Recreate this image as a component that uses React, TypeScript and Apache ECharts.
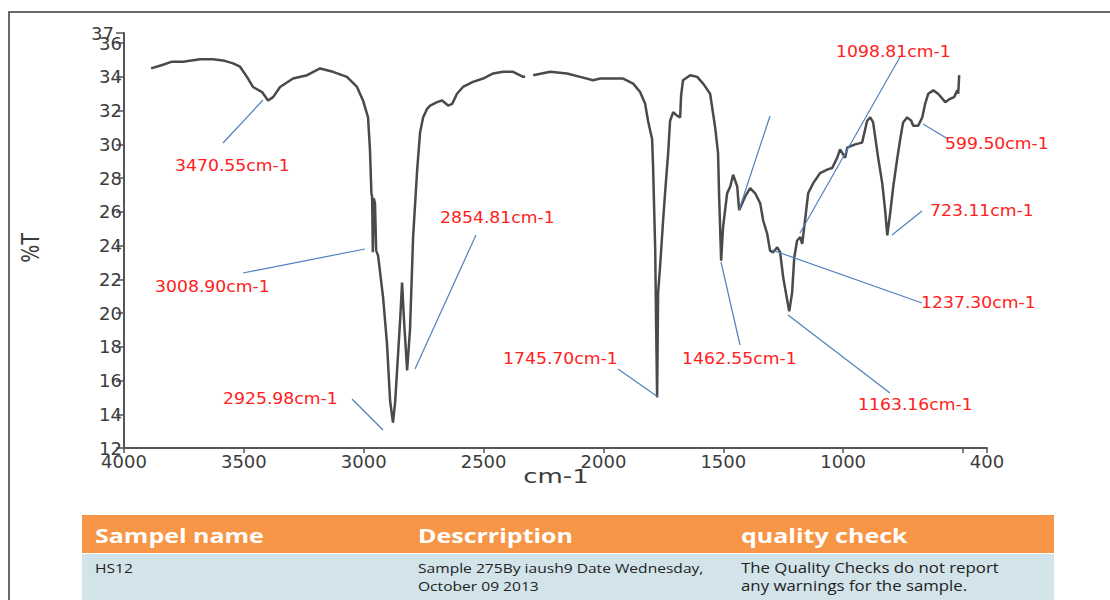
import React, { useEffect, useRef } from "react";
import * as echarts from "echarts";

// ---- Spectrum data (wavenumber cm-1, %T) ----
const wavenumbers = [
  3887, 3840, 3800, 3754, 3683, 3629, 3580, 3545, 3516, 3487, 3462, 3424, 3399, 3378, 3349, 3295,
  3236, 3182, 3128, 3070, 3028, 3003, 2982, 2974, 2968, 2965, 2962, 2958, 2953, 2948, 2940, 2919,
  2903, 2890, 2878, 2869, 2848, 2840, 2832, 2819, 2807, 2794, 2777, 2765, 2752, 2736, 2723, 2694,
  2673, 2648, 2631, 2611, 2586, 2544, 2502, 2460, 2419, 2377, 2335, 2327, 2310, 2293, 2222, 2152,
  2097, 2043, 2014, 1943, 1918, 1876, 1847, 1826, 1814, 1797, 1793, 1784, 1780, 1776, 1772, 1764,
  1751, 1743, 1730, 1722, 1709, 1693, 1680, 1676, 1668, 1638, 1609, 1584, 1555, 1534, 1522, 1517,
  1509, 1501, 1484, 1471, 1459, 1442, 1434, 1409, 1388, 1367, 1346, 1334, 1317, 1305, 1292, 1275,
  1263, 1250, 1234, 1225, 1213, 1204, 1192, 1179, 1171, 1159, 1146, 1125, 1096, 1067, 1046, 1025,
  1013, 1000, 992, 983, 950, 921, 900, 887, 875, 854, 837, 825, 816, 804, 791, 775,
  762, 750, 733, 716, 708, 687, 670, 658, 645, 624, 604, 574, 554, 537, 524, 520,
  516,
];
const transmittance: (number | null)[] = [
  34.5, 34.7, 34.9, 34.9, 35.05, 35.05, 34.95, 34.8, 34.6, 34.0, 33.4, 33.1, 32.6, 32.8, 33.4, 33.9,
  34.1, 34.5, 34.3, 34.0, 33.4, 32.6, 31.6, 29.7, 27.1, 26.9, 23.6, 26.8, 26.5, 23.7, 23.4, 20.9,
  18.2, 14.8, 13.5, 14.7, 19.6, 21.8, 19.6, 16.6, 19.0, 24.5, 28.5, 30.7, 31.6, 32.1, 32.3, 32.5,
  32.6, 32.3, 32.4, 33.0, 33.4, 33.7, 33.9, 34.2, 34.3, 34.3, 34.0, 34.0, null, 34.1, 34.3, 34.2,
  34.0, 33.8, 33.9, 33.9, 33.9, 33.6, 33.1, 32.4, 31.4, 30.3, 28.7, 23.7, 19.0, 15.0, 21.2, 22.7,
  25.5, 27.1, 29.5, 31.4, 31.9, 31.7, 31.6, 32.9, 33.8, 34.1, 34.0, 33.6, 33.0, 31.0, 29.5, 26.7,
  23.1, 25.1, 27.1, 27.5, 28.2, 27.5, 26.1, 26.9, 27.4, 27.1, 26.5, 25.5, 24.7, 23.7, 23.6, 23.9,
  23.6, 22.1, 20.8, 20.1, 21.2, 23.3, 24.3, 24.5, 24.1, 25.5, 27.1, 27.7, 28.3, 28.5, 28.6, 29.2,
  29.7, 29.4, 29.2, 29.8, 30.0, 30.1, 31.4, 31.6, 31.3, 29.2, 27.7, 26.1, 24.6, 25.9, 27.5, 29.1,
  30.3, 31.3, 31.6, 31.4, 31.1, 31.1, 31.6, 32.4, 33.0, 33.2, 33.0, 32.5, 32.7, 32.8, 33.2, 33.0,
  34.1,
];

// ---- Axis ticks ----
const xTickValues = [4000, 3500, 3000, 2500, 2000, 1500, 1000, 500, 400];
const xLabelValues = [4000, 3500, 3000, 2500, 2000, 1500, 1000, 400];
const yTickValues = [12, 14, 16, 18, 20, 22, 24, 26, 28, 30, 32, 34, 36, 36.6];
const yLabelValues = [12, 14, 16, 18, 20, 22, 24, 26, 28, 30, 32, 34, 36];
const yTopLabel = "37";

// ---- Peak annotations ----
const peakLabels = [
  "3470.55cm-1",
  "3008.90cm-1",
  "2925.98cm-1",
  "2854.81cm-1",
  "1745.70cm-1",
  "1462.55cm-1",
  "1098.81cm-1",
  "",
  "599.50cm-1",
  "723.11cm-1",
  "1237.30cm-1",
  "1163.16cm-1",
];

// ---- Table ----
const tableHeaders = ["Sampel name", "Descrription", "quality check"];
const tableRow = [
  ["HS12"],
  ["Sample 275By iaush9 Date Wednesday,", "October 09 2013"],
  ["The Quality Checks do not report", "any warnings for the sample."],
];

export default function App() {
  const ref = useRef<HTMLDivElement>(null);

  useEffect(() => {
    if (!ref.current) return;
    const chart = echarts.init(ref.current, undefined, { renderer: "svg" });

    const data = wavenumbers.map((w, i) => [w, transmittance[i]]);

    // layout of annotations (pixel positions): leader line + label anchor
    const annLayout = [
      { l: [223, 143, 263, 100], t: [175, 166] },
      { l: [243, 273, 365, 249], t: [155, 287] },
      { l: [352, 399, 383, 430], t: [223, 399] },
      { l: [476, 235, 415, 369], t: [440, 218] },
      { l: [618, 369, 658, 397], t: [503, 359] },
      { l: [721, 262, 740, 345], t: [682, 359] },
      { l: [900, 57, 800, 233], t: [836, 52] },
      { l: [770, 116, 739, 210], t: [0, 0] },
      { l: [923, 124, 948, 139], t: [945, 144] },
      { l: [892, 235, 922, 211], t: [930, 211] },
      { l: [772, 250, 922, 303], t: [921, 303] },
      { l: [788, 315, 890, 393], t: [858, 405] },
    ];

    const axisFont = { fontFamily: "DejaVu Sans", fontSize: 18, color: "#3c3c3c" };

    const graphics: any[] = [];
    // outer frame
    graphics.push({
      type: "rect",
      shape: { x: 9, y: 12, width: 1300, height: 800 },
      style: { fill: "none", stroke: "#3a3a3a", lineWidth: 1.5 },
      silent: true,
    });

    annLayout.forEach((a, i) => {
      graphics.push({
        type: "line",
        shape: { x1: a.l[0], y1: a.l[1], x2: a.l[2], y2: a.l[3] },
        style: { stroke: "#4f81bd", lineWidth: 1.2 },
        z: 10,
      });
      if (peakLabels[i]) {
        graphics.push({
          type: "text",
          x: a.t[0],
          y: a.t[1],
          scaleX: 1.15,
          style: {
            text: peakLabels[i],
            fill: "#ff2020",
            fontSize: 15,
            fontFamily: "DejaVu Sans",
            align: "left",
            verticalAlign: "middle",
            textAlign: "left",
            textVerticalAlign: "middle",
          },
          z: 10,
        });
      }
    });

    // top y label at the axis end
    graphics.push({
      type: "text",
      x: 114,
      y: 33,
      style: {
        text: yTopLabel,
        fill: axisFont.color,
        fontSize: axisFont.fontSize,
        fontFamily: axisFont.fontFamily,
        align: "right",
        verticalAlign: "middle",
        textAlign: "right",
        textVerticalAlign: "middle",
      },
    });

    // axis names
    graphics.push({
      type: "text",
      x: 556,
      y: 476,
      scaleX: 1.3,
      style: {
        text: "cm-1",
        fill: "#3c3c3c",
        fontSize: 20,
        fontFamily: "DejaVu Sans",
        align: "center",
        verticalAlign: "middle",
        textAlign: "center",
        textVerticalAlign: "middle",
      },
    });
    graphics.push({
      type: "text",
      x: 31,
      y: 248,
      rotation: Math.PI / 2,
      scaleY: 1.3,
      style: {
        text: "%T",
        fill: "#3c3c3c",
        fontSize: 19,
        fontFamily: "DejaVu Sans",
        align: "center",
        verticalAlign: "middle",
        textAlign: "center",
        textVerticalAlign: "middle",
      },
    });

    // table
    const colX = [95, 418, 741];
    graphics.push({
      type: "rect",
      shape: { x: 82, y: 515, width: 972, height: 38 },
      style: { fill: "#f79646" },
    });
    graphics.push({
      type: "rect",
      shape: { x: 82, y: 554, width: 972, height: 46 },
      style: { fill: "#d2e3ea" },
    });
    tableHeaders.forEach((h, i) => {
      graphics.push({
        type: "text",
        x: colX[i],
        y: 535,
        scaleX: 1.25,
        style: {
          text: h,
          fill: "#ffffff",
          fontSize: 20,
          fontWeight: "bold",
          fontFamily: "Open Sans",
          align: "left",
          verticalAlign: "middle",
          textAlign: "left",
          textVerticalAlign: "middle",
        },
      });
    });
    tableRow.forEach((lines, i) => {
      lines.forEach((ln, j) => {
        graphics.push({
          type: "text",
          x: colX[i],
          y: 568 + j * 18,
          scaleX: 1.2,
          style: {
            text: ln,
            fill: "#222",
            fontSize: i === 2 ? 14 : 13,
            fontFamily: "Open Sans",
            align: "left",
            verticalAlign: "middle",
            textAlign: "left",
            textVerticalAlign: "middle",
          },
        });
      });
    });

    chart.setOption({
      animation: false,
      backgroundColor: "#ffffff",
      grid: { left: 124, right: 123, top: 33, bottom: 152, containLabel: false },
      xAxis: {
        type: "value",
        inverse: true,
        min: 400,
        max: 4000,
        axisLine: { show: true, lineStyle: { color: "#555", width: 2 } },
        axisTick: {
          show: true,
          length: 5,
          customValues: xTickValues,
          lineStyle: { color: "#555", width: 1.5 },
        },
        axisLabel: {
          ...axisFont,
          margin: 4,
          customValues: xLabelValues,
          showMinLabel: true,
          showMaxLabel: true,
          hideOverlap: false,
          formatter: (v: number) => String(v),
        },
        splitLine: { show: false },
      },
      yAxis: {
        type: "value",
        min: 12,
        max: 36.6,
        axisLine: { show: true, lineStyle: { color: "#555", width: 2 } },
        axisTick: {
          show: true,
          length: 8,
          customValues: yTickValues,
          lineStyle: { color: "#555", width: 1.5 },
        },
        axisLabel: {
          ...axisFont,
          margin: 2,
          customValues: yLabelValues,
          showMinLabel: true,
          showMaxLabel: true,
          hideOverlap: false,
          formatter: (v: number) => String(Math.round(v)),
        },
        splitLine: { show: false },
      },
      series: [
        {
          type: "line",
          data,
          symbol: "none",
          showSymbol: false,
          connectNulls: false,
          lineStyle: { color: "#4a4a4a", width: 2.5 },
          z: 5,
        },
      ],
      graphic: graphics,
    });

    return () => chart.dispose();
  }, []);

  return (
    <div
      ref={ref}
      style={{ position: "absolute", left: 0, top: 0, width: 1110, height: 600, background: "#fff" }}
    />
  );
}
